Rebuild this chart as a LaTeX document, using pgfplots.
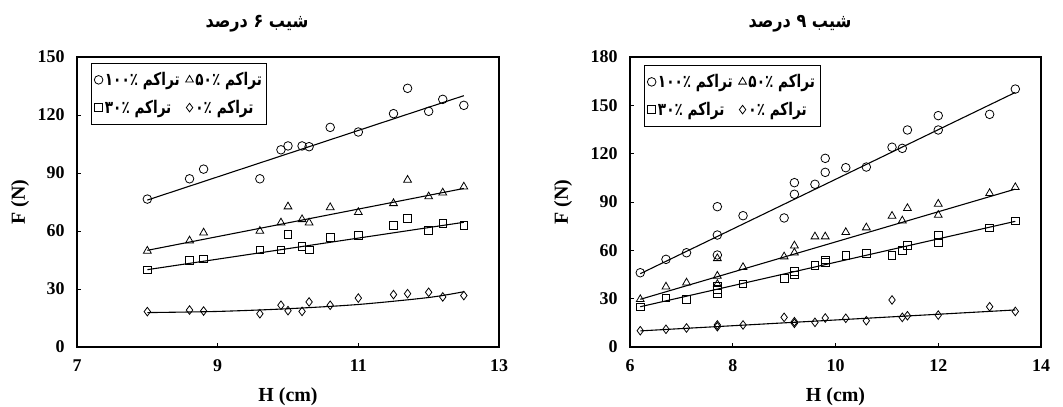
\documentclass[border=0pt]{standalone}
\usepackage{fontspec}
\setmainfont{Liberation Serif}
\newfontfamily\fa[Script=Arabic, FakeStretch=0.85]{DejaVu Sans}
\newfontfamily\faleg[Script=Arabic, FakeStretch=0.78]{DejaVu Sans}
\TeXXeTstate=1
\usepackage{pgfplots}
\pgfplotsset{compat=1.18}
\pgfplotsset{
  myaxis/.style={
    scale only axis,
    width=#1,
    height=290bp,
    axis line style={line width=1.1pt},
    tick style={line width=0.9pt,black},
    tick align=inside,
    major tick length=4bp,
    xtick pos=bottom, ytick pos=left,
    /pgf/number format/assume math mode=true,
    ticklabel style={font=\fontsize{18}{21}\selectfont\bfseries},
    xticklabel style={yshift=-9bp},
    yticklabel style={xshift=-9bp},
    xlabel style={font=\fontsize{20}{23}\selectfont\bfseries},
    ylabel style={font=\fontsize{20}{23}\selectfont\bfseries},
    xlabel={H (cm)}, ylabel={F (N)},
    legend columns=2,
    legend cell align=left,
    legend style={draw=black, line width=0.8pt, font=\fontsize{17.5}{20}\selectfont\faleg\bfseries,
      anchor=north west, inner xsep=3bp, inner ysep=7bp, row sep=9bp,
      /tikz/every even column/.append style={column sep=4bp}},
  },
  mk/.style={only marks, mark options={draw=black, fill=white, line width=0.8pt}, black},
  tl/.style={black, line width=1.1pt, no markers, forget plot},
}
\begin{document}
\begin{tikzpicture}
\useasboundingbox (0,0) rectangle (1063bp,407bp);
\node[font=\fontsize{19}{22}\selectfont\fa\bfseries] at (257bp,383bp) {\beginR شیب ۶ درصد\endR};
\node[font=\fontsize{19}{22}\selectfont\fa\bfseries] at (800bp,383bp) {\beginR شیب ۹ درصد\endR};
% ---------------- left: 6% ----------------
\begin{axis}[myaxis=422bp, at={(77bp,60bp)}, anchor=south west,
  xmin=7, xmax=13, ymin=0, ymax=150,
  xtick={7,9,11,13}, ytick={0,30,60,90,120,150},
  ylabel style={at={(-0.135,0.5)}, anchor=center},
  xlabel style={at={(0.5,-0.172)}, anchor=center},
  legend style={at={(0.033,0.979)}},
]
\addplot[mk, mark=o, mark size=4.3bp] coordinates {(8,76.5)(8.6,87)(8.8,92)(9.6,87)(9.9,102)(10,104)(10.2,104)(10.3,103.6)(10.6,113.6)(11,111.2)(11.5,120.7)(11.7,133.8)(12,121.9)(12.2,128.1)(12.5,125)};
\addlegendentry{\beginR تراکم ۱۰۰٪\endR}
\addplot[mk, mark=triangle, mark size=4.5bp] coordinates {(8,49.7)(8.6,55)(8.8,59.1)(9.6,60)(9.9,64.3)(10,72.6)(10.2,66)(10.3,64.3)(10.6,72.2)(11,69.7)(11.5,74.3)(11.7,86.4)(12,77.8)(12.2,79.8)(12.5,82.9)};
\addlegendentry{\beginR تراکم ۵۰٪\endR}
\addplot[mk, mark=square, mark size=3.8bp] coordinates {(8,39.8)(8.6,44.7)(8.8,45.5)(9.6,50.2)(9.9,50.2)(10,58.1)(10.2,51.9)(10.3,50.2)(10.6,56.6)(11,57.6)(11.5,62.8)(11.7,66.6)(12,60.3)(12.2,64)(12.5,62.8)};
\addlegendentry{\beginR تراکم ۳۰٪\endR}
\addplot[mk, mark=diamond, mark size=4.3bp] coordinates {(8,18.3)(8.6,19.1)(8.8,18.6)(9.6,17.2)(9.9,21.6)(10,18.8)(10.2,18.4)(10.3,23.3)(10.6,21.6)(11,25.3)(11.5,27.1)(11.7,27.6)(12,28.3)(12.2,25.9)(12.5,26.6)};
\addlegendentry{\beginR تراکم ۰٪\endR}
\addplot[tl] coordinates {(8,76)(12.5,130)};
\addplot[tl] coordinates {(8,50)(12.5,82)};
\addplot[tl] coordinates {(8,40)(12.5,64.5)};
\addplot[tl, smooth] coordinates {(8,17.8)(9,18.4)(10,19.8)(11,22)(12,25.6)(12.5,28.6)};
\end{axis}
% ---------------- right: 9% ----------------
\begin{axis}[myaxis=411bp, at={(630bp,60bp)}, anchor=south west,
  xmin=6, xmax=14, ymin=0, ymax=180,
  xtick={6,8,10,12,14}, ytick={0,30,60,90,120,150,180},
  ylabel style={at={(-0.163,0.5)}, anchor=center},
  xlabel style={at={(0.5,-0.172)}, anchor=center},
  legend style={at={(0.034,0.972)}},
]
\addplot[mk, mark=o, mark size=4.3bp] coordinates {(6.2,46.1)(6.7,54.4)(7.1,58.5)(7.7,87.1)(7.7,69.5)(7.7,57.1)(8.2,81.5)(9.0,80.1)(9.2,102)(9.2,94.8)(9.6,101)(9.8,117.1)(9.8,108.4)(10.2,111.3)(10.6,111.7)(11.1,124)(11.3,123.3)(11.4,134.7)(12,143.6)(12,134.7)(13,144.4)(13.5,160.1)};
\addlegendentry{\beginR تراکم ۱۰۰٪\endR}
\addplot[mk, mark=triangle, mark size=4.5bp] coordinates {(6.2,29.6)(6.7,37.4)(7.1,39.9)(7.7,55)(7.7,44.1)(7.7,39)(8.2,49.5)(9.0,56.1)(9.2,62.9)(9.2,58.5)(9.6,68.5)(9.8,68.5)(10.2,71.2)(10.6,74.1)(11.1,81.3)(11.3,78.4)(11.4,86.1)(12,88.8)(12,81.9)(13,95.4)(13.5,99.1)};
\addlegendentry{\beginR تراکم ۵۰٪\endR}
\addplot[mk, mark=square, mark size=3.8bp] coordinates {(6.2,25)(6.7,30.6)(7.1,29.6)(7.7,37.9)(7.7,35.8)(7.7,33.3)(8.2,39.1)(9.0,42.4)(9.2,46.8)(9.2,44.7)(9.6,50.7)(9.8,54)(9.8,52.6)(10.2,56.9)(10.6,58.1)(11.1,56.9)(11.3,59.8)(11.4,63.1)(12,69.3)(12,65)(13,73.9)(13.5,78.2)};
\addlegendentry{\beginR تراکم ۳۰٪\endR}
\addplot[mk, mark=diamond, mark size=4.3bp] coordinates {(6.2,10.1)(6.7,11)(7.1,11.8)(7.7,13.7)(7.7,12.6)(8.2,13.7)(9.0,18.4)(9.2,15.7)(9.2,14.7)(9.6,15.3)(9.8,18)(10.2,17.8)(10.6,16.3)(11.1,29.2)(11.3,18.4)(11.4,19.4)(12,19.8)(13,25)(13.5,22.1)};
\addlegendentry{\beginR تراکم ۰٪\endR}
\addplot[tl] coordinates {(6.2,45.5)(13.5,158)};
\addplot[tl] coordinates {(6.2,29.6)(13.5,98)};
\addplot[tl] coordinates {(6.2,25)(13.5,78)};
\addplot[tl] coordinates {(6.2,10)(13.5,23)};
\end{axis}
\end{tikzpicture}
\end{document}
